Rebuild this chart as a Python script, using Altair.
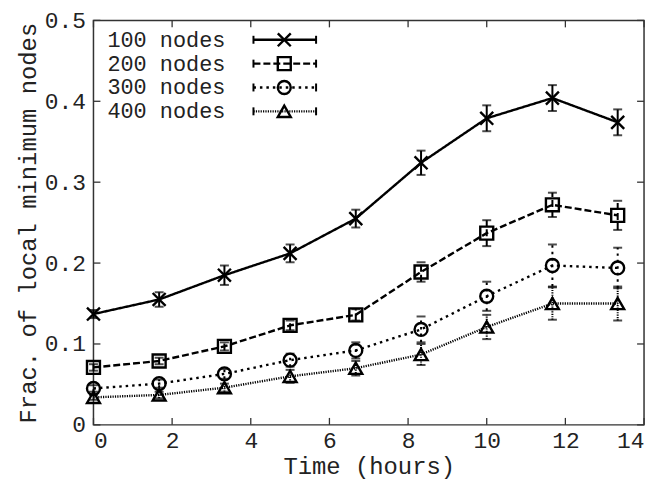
import altair as alt
import pandas as pd

# ---- data ----
hours = [0, 1.67, 3.33, 5.0, 6.67, 8.33, 10.0, 11.67, 13.33]
series_names = ["100 nodes", "200 nodes", "300 nodes", "400 nodes"]
frac_100 = [0.137, 0.155, 0.185, 0.212, 0.255, 0.324, 0.379, 0.404, 0.374]
err_100 = [0.005, 0.009, 0.012, 0.011, 0.011, 0.015, 0.016, 0.016, 0.016]
frac_200 = [0.071, 0.079, 0.097, 0.123, 0.136, 0.189, 0.237, 0.272, 0.259]
err_200 = [0.004, 0.004, 0.005, 0.006, 0.007, 0.012, 0.016, 0.015, 0.018]
frac_300 = [0.045, 0.051, 0.063, 0.080, 0.092, 0.118, 0.159, 0.197, 0.194]
err_300 = [0.004, 0.005, 0.006, 0.008, 0.010, 0.016, 0.018, 0.026, 0.025]
frac_400 = [0.034, 0.037, 0.046, 0.060, 0.070, 0.087, 0.121, 0.150, 0.150]
err_400 = [0.003, 0.004, 0.005, 0.008, 0.009, 0.013, 0.015, 0.020, 0.021]
x_ticks = [0, 2, 4, 6, 8, 10, 12, 14]
y_ticks = [0, 0.1, 0.2, 0.3, 0.4, 0.5]

# ---- styling ----
FONT = "Liberation Mono"
W, H = 554, 407
dash_range = [[1, 0], [7, 3], [2.5, 4], [1.2, 1.2]]
xpath = "M-1,-1L1,1M-1,1L1,-1"
shape_range = [xpath, "square", "circle", "triangle-up"]

rows = []
for name, ys, es in zip(series_names,
                        [frac_100, frac_200, frac_300, frac_400],
                        [err_100, err_200, err_300, err_400]):
    for h, v, e in zip(hours, ys, es):
        rows.append({"series": name, "hours": h, "frac": v,
                     "lo": v - e, "hi": v + e})
df = pd.DataFrame(rows)

xs = alt.Scale(domain=[0, 14], nice=False, zero=False)
ys_ = alt.Scale(domain=[0, 0.5], nice=False)
dash_scale = alt.Scale(domain=series_names, range=dash_range)
shape_scale = alt.Scale(domain=series_names, range=shape_range)

X = alt.X("hours:Q", scale=xs,
          axis=alt.Axis(values=x_ticks, title="Time (hours)", format="d"))
Y = alt.Y("frac:Q", scale=ys_,
          axis=alt.Axis(values=y_ticks, title="Frac. of local minimum nodes",
                        labelExpr="datum.value == 0 ? '0' : format(datum.value, '.1f')"))

base = alt.Chart(df)

lines = base.mark_line(color="black", strokeWidth=2.4).encode(
    x=X, y=Y,
    strokeDash=alt.StrokeDash("series:N", scale=dash_scale, legend=None),
    detail="series:N",
)

bars = base.mark_rule(color="black", strokeWidth=2).encode(
    x="hours:Q", y="lo:Q", y2="hi:Q",
    strokeDash=alt.StrokeDash("series:N", scale=dash_scale, legend=None),
)
caps_lo = base.mark_tick(color="black", orient="horizontal", size=9, thickness=2).encode(
    x="hours:Q", y="lo:Q")
caps_hi = base.mark_tick(color="black", orient="horizontal", size=9, thickness=2).encode(
    x="hours:Q", y="hi:Q")

points = base.mark_point(filled=False, color="black", strokeWidth=2.4, size=170, opacity=1).encode(
    x="hours:Q", y="frac:Q",
    shape=alt.Shape("series:N", scale=shape_scale, legend=None),
)

# inward mirrored ticks
xt = alt.Chart(pd.DataFrame({"t": x_ticks}))
yt = alt.Chart(pd.DataFrame({"t": y_ticks}))
tick_style = dict(color="#333", strokeWidth=1.3)
tick_layers = [
    xt.mark_rule(**tick_style).encode(x="t:Q", y=alt.value(H), y2=alt.value(H - 7)),
    xt.mark_rule(**tick_style).encode(x="t:Q", y=alt.value(0), y2=alt.value(7)),
    yt.mark_rule(**tick_style).encode(y="t:Q", x=alt.value(0), x2=alt.value(7)),
    yt.mark_rule(**tick_style).encode(y="t:Q", x=alt.value(W), x2=alt.value(W - 7)),
]

# manual key (gnuplot style: text left, sample right)
legend_layers = []
row_y = [19.5, 43.5, 67.5, 91.5]
for i, name in enumerate(series_names):
    ld = alt.Chart(pd.DataFrame({"label": [name]}))
    ry = row_y[i]
    legend_layers.append(ld.mark_text(align="left", baseline="middle", font=FONT,
                                      fontSize=22, color="#222").encode(
        text="label:N", x=alt.value(14), y=alt.value(ry)))
    legend_layers.append(ld.mark_rule(color="black", strokeWidth=2.4,
                                      strokeDash=dash_range[i]).encode(
        x=alt.value(161), x2=alt.value(224), y=alt.value(ry)))
    for cx in (161, 224):
        legend_layers.append(ld.mark_rule(color="black", strokeWidth=2).encode(
            x=alt.value(cx), y=alt.value(ry - 4), y2=alt.value(ry + 4)))
    legend_layers.append(ld.mark_point(filled=False, color="black", strokeWidth=2.4,
                                       size=170, opacity=1, shape=shape_range[i]).encode(
        x=alt.value(192), y=alt.value(ry)))

chart = alt.layer(lines, bars, caps_lo, caps_hi, points, *tick_layers, *legend_layers).properties(
    width=W, height=H,
    padding={"top": 0, "left": 8, "right": 5, "bottom": 0},
).configure_view(
    stroke="#333", strokeWidth=1.5
).configure_axis(
    labelFont=FONT, titleFont=FONT, labelFontSize=23, titleFontSize=24,
    titleFontWeight="normal", labelColor="#222", titleColor="#222",
    ticks=False, domain=False, grid=False,
).configure_axisX(
    labelPadding=5, titlePadding=2,
).configure_axisY(
    labelPadding=8, titlePadding=4,
)

chart.save("out.html", embed_options={"renderer": "svg", "actions": False})
